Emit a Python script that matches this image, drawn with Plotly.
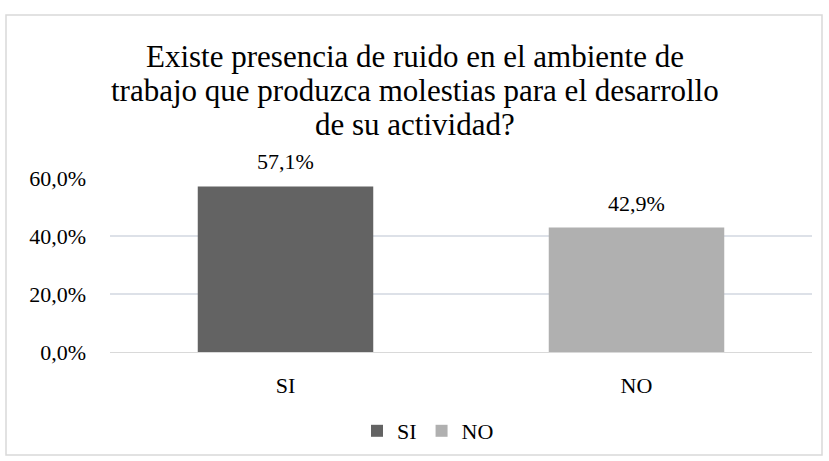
import plotly.graph_objects as go

categories = ["SI", "NO"]
values = [0.571, 0.429]
colors = ["#636363", "#b0b0b0"]
title_lines = ["Existe presencia de ruido en el ambiente de",
               "trabajo que produzca molestias para el desarrollo",
               "de su actividad?"]

font_family = "Liberation Serif"

fig = go.Figure()
for cat, val, col in zip(categories, values, colors):
    fig.add_trace(go.Bar(
        x=[cat], y=[val], name=cat,
        marker=dict(color=col, line=dict(width=0)),
        width=0.5,
    ))

# plot area in pixels: left 110, right 812, top 178, bottom 352
L, R, T, B = 110, 812, 178, 352
W, H = 829, 461
pw, ph = R - L, B - T

annotations = []
# data labels
for cat, val in zip(categories, values):
    annotations.append(dict(
        x=cat, y=val, xref="x", yref="y", showarrow=False,
        text=f"{val * 100:.1f}%".replace(".", ","),
        yanchor="bottom", yshift=10,
        font=dict(size=22, family=font_family, color="#000000"),
    ))
# title, one annotation per line to control line spacing
for i, line in enumerate(title_lines):
    cy = 56.5 + 34 * i
    annotations.append(dict(
        x=(415 - L) / pw, y=(B - cy) / ph, xref="paper", yref="paper",
        showarrow=False, text=line, xanchor="center", yanchor="middle",
        font=dict(size=31, family=font_family, color="#000000"),
    ))

fig.update_layout(
    width=W, height=H,
    separators=",.",
    paper_bgcolor="white", plot_bgcolor="white",
    margin=dict(l=L, r=W - R, t=T, b=H - B, autoexpand=False),
    font=dict(family=font_family, size=22, color="#000000"),
    barmode="group",
    showlegend=True,
    legend=dict(orientation="h", x=(428 - L) / pw, xanchor="center",
                y=(B - 431) / ph, yanchor="middle",
                font=dict(size=22, family=font_family),
                itemwidth=30, traceorder="normal"),
    xaxis=dict(showgrid=False, showline=True, linecolor="#d9d9d9",
               ticks="", ticklabelstandoff=14,
               tickfont=dict(size=22, family=font_family)),
    yaxis=dict(range=[0, 0.6], dtick=0.2, tickformat=".1%",
               showgrid=True, gridcolor="#dde1e8", gridwidth=1.5,
               zeroline=False, showline=False, ticks="", ticklen=0,
               ticklabelstandoff=23,
               tickfont=dict(size=22, family=font_family)),
    annotations=annotations,
    shapes=[dict(type="rect", xref="paper", yref="paper",
                 x0=(6 - L) / pw, x1=(822 - L) / pw,
                 y0=(B - 455) / ph, y1=(B - 15) / ph,
                 line=dict(color="#d9d9d9", width=1.5),
                 fillcolor="rgba(0,0,0,0)", layer="below")],
)

fig.write_html("out.html", config={"displayModeBar": False},
               post_script="document.body.style.margin='0';")
